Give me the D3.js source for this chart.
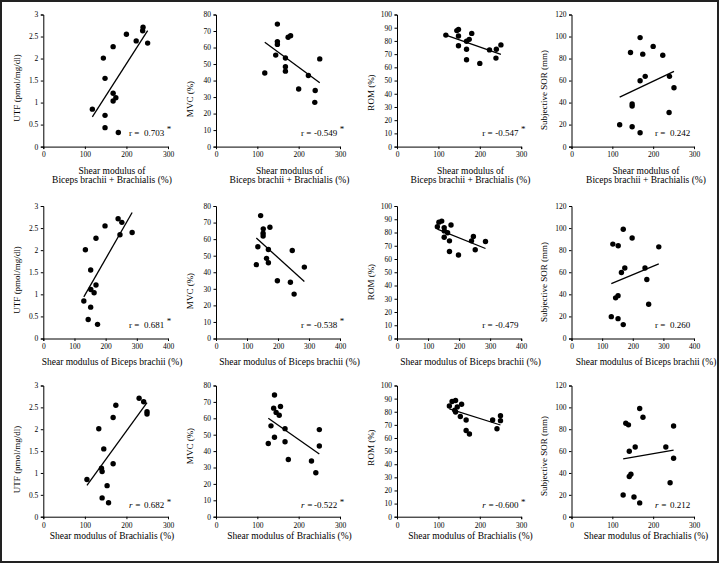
<!DOCTYPE html>
<html><head><meta charset="utf-8">
<script src="https://cdn.jsdelivr.net/npm/d3@7"></script>
<style>
body{margin:0;background:#fff}
svg{display:block}
text{font-family:"Liberation Serif","Times New Roman",serif;fill:#000}
</style>
</head><body><svg id="c" width="719" height="563"></svg>
<script>
// ---- data: one entry per subject (n = 15) ----
const shearBicepsBrachialis = [118, 144.5, 148.5, 148.5, 148.5, 168, 168, 168, 174.5, 180.5, 200, 223.5, 239, 240, 251];
const shearBiceps           = [130, 135, 152, 152, 144, 169, 169, 163, 152.5, 174, 198, 285, 252, 240, 246];
const shearBrachialis       = [126.5, 133, 145.5, 153, 141.5, 167, 167, 141.5, 139.5, 156, 175, 250, 241.5, 231, 250];
// brachialis values as plotted in the UTF panel (first subject drawn lower there)
const shearBrachialisUTF    = [105, 133.5, 145.5, 153.5, 141.5, 168, 168, 141.5, 140, 157, 174.5, 249.5, 241.5, 230.5, 249.5];
const utf = [0.85, 2.01, 1.55, 0.71, 0.43, 2.27, 1.21, 1.035, 1.11, 0.32, 2.55, 2.40, 2.63, 2.71, 2.35];
const mvc = [44.6, 55.4, 63.6, 61.9, 74.2, 53.7, 45.7, 48.4, 66.2, 67.2, 34.9, 43.1, 26.8, 34.0, 53.1];
const rom = [84.4, 87.8, 83.7, 76.4, 88.6, 73.7, 65.7, 79.8, 81.2, 85.7, 63.0, 73.2, 67.0, 73.7, 77.0];
const sor = [19.8, 85.5, 38.8, 18.0, 36.8, 99.0, 12.6, 59.8, 84.0, 63.8, 91.0, 83.0, 31.0, 63.8, 53.4];

const outcomeNames = ["UTF (pmol/mg/dl)", "MVC (%)", "ROM (%)", "Subjective SOR (mm)"];
const outcomeMax   = [3, 80, 100, 120];
const outcomeStep  = [0.5, 10, 10, 20];
const predictorLabels = [["Shear modulus of", "Biceps brachii + Brachialis (%)"],
                         ["Shear modulus of Biceps brachii (%)"],
                         ["Shear modulus of Brachialis (%)"]];
const predictorMax = [300, 400, 300];
const rLabels = [["0.703", "-0.549", "-0.547", "0.242"],
                 ["0.681", "-0.538", "-0.479", "0.260"],
                 ["0.682", "-0.522", "-0.600", "0.212"]];
const rStar   = [[true, true, true, false],
                 [true, true, false, false],
                 [true, true, true, false]];

const predictors = [shearBicepsBrachialis, shearBiceps, shearBrachialis];
const outcomes   = [utf, mvc, rom, sor];
const predictorFor = (ri, ci) => (ri === 2 && ci === 0) ? shearBrachialisUTF : predictors[ri];

// ---- layout ----
const colLeft  = [43.3, 216, 397, 571.5];
const colRight = [168, 340, 521.2, 694];
const rowTop    = [14.5, 206, 385.5];
const rowBottom = [146.6, 338.5, 516.7];
const yLabelX = [16.7, 190, 371, 543.5];
const yLabelY = [[88, 99, 92.5, 90], [280, 291, 282, 282], [459.5, 446, 447.5, 456]];
const xLabelCx = [112, 289.5, 470.5, 646];
const xLabelY  = [[170.7, 180], [361.7], [536]];

const svg = d3.select("#c");
svg.append("rect").attr("width", 719).attr("height", 563).attr("fill", "#fff");

predictors.forEach((_, ri) => {
  outcomes.forEach((py, ci) => {
    const px = predictorFor(ri, ci);
    const x = d3.scaleLinear().domain([0, predictorMax[ri]]).range([colLeft[ci], colRight[ci]]);
    const y = d3.scaleLinear().domain([0, outcomeMax[ci]]).range([rowBottom[ri], rowTop[ri]]);
    const g = svg.append("g");

    const yt = d3.range(0, outcomeMax[ci] + outcomeStep[ci] / 2, outcomeStep[ci]);
    const ya = g.append("g").attr("transform", `translate(${colLeft[ci]},0)`)
      .call(d3.axisLeft(y).tickValues(yt).tickSize(2.5).tickPadding(2.5).tickFormat(d => String(+d.toFixed(2))));
    const xa = g.append("g").attr("transform", `translate(0,${rowBottom[ri]})`)
      .call(d3.axisBottom(x).tickValues(d3.range(0, predictorMax[ri] + 1, 100)).tickSize(2.5).tickPadding(3));
    [ya, xa].forEach(a => {
      a.select(".domain").attr("stroke", "#000").attr("stroke-width", 1);
      a.selectAll(".tick line").attr("stroke", "#000");
      a.selectAll(".tick text").style("font-family", '"Liberation Serif",serif').style("font-size", "7.5px").attr("fill", "#000");
    });

    // points
    const pts = px.map((v, i) => [v, py[i]]);
    g.selectAll("circle").data(pts).join("circle")
      .attr("cx", d => x(d[0])).attr("cy", d => y(d[1])).attr("r", 2.7).attr("fill", "#000");

    // least-squares trend line
    const mx = d3.mean(px), my = d3.mean(py);
    const b = d3.sum(px, (v, i) => (v - mx) * (py[i] - my)) / d3.sum(px, v => (v - mx) * (v - mx));
    const a = my - b * mx;
    const [x0, x1] = d3.extent(px);
    g.append("line").attr("x1", x(x0)).attr("y1", y(a + b * x0)).attr("x2", x(x1)).attr("y2", y(a + b * x1))
      .attr("stroke", "#000").attr("stroke-width", 1.3);

    // y label
    g.append("text").attr("transform", `translate(${yLabelX[ci]},${yLabelY[ri][ci]}) rotate(-90)`)
      .attr("text-anchor", "middle").attr("dominant-baseline", "central").style("font-size", "9px")
      .text(outcomeNames[ci]);

    // x label
    predictorLabels[ri].forEach((t, li) => {
      g.append("text").attr("x", xLabelCx[ci]).attr("y", xLabelY[ri][li])
        .attr("text-anchor", "middle").attr("dominant-baseline", "central").style("font-size", "9.5px").text(t);
    });

    // r annotation
    const base = rowBottom[ri] - (ri === 2 ? 8.7 : 11);
    g.append("text").attr("x", colRight[ci] - 39).attr("y", base).style("font-size", "9px")
      .style("font-style", ri === 2 ? "italic" : "normal").text("r =");
    const rt = g.append("text").attr("x", colRight[ci] - (rLabels[ri][ci][0] === "-" ? 26 : 24)).attr("y", base)
      .style("font-size", "9px").text(rLabels[ri][ci]);
    if (rStar[ri][ci]) rt.append("tspan").attr("dx", 2.5).attr("dy", -3.5).text("*");
  });
});

// frame
svg.append("rect").attr("x", 1).attr("y", 1).attr("width", 717).attr("height", 561)
  .attr("fill", "none").attr("stroke", "#222").attr("stroke-width", 2);
</script>
</body></html>
